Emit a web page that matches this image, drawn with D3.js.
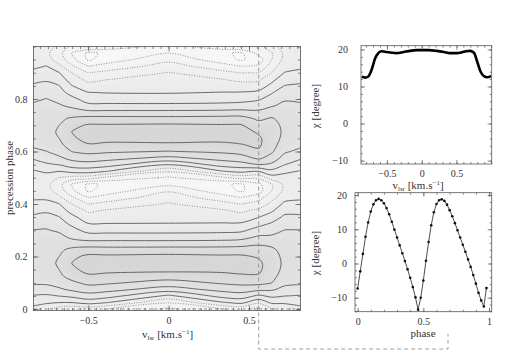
<!DOCTYPE html>
<html>
<head>
<meta charset="utf-8">
<script src="https://cdn.jsdelivr.net/npm/d3@7/dist/d3.min.js"></script>
<style>
  body { margin: 0; background: #fff; }
  svg text { font-family: "Liberation Serif", "DejaVu Serif", serif; fill: #333; }
</style>
</head>
<body>
<div id="viz-container"></div>
<script>
// ---- values ----

// chi map: velocity of each grid column, phase of each grid row
const mapVel = [-0.84, -0.76, -0.68, -0.6, -0.5, -0.38, 0, 0.33, 0.45, 0.56, 0.64, 0.72, 0.82];
const mapPhase = [0, 0.025, 0.05, 0.075, 0.1, 0.125, 0.15, 0.175, 0.2, 0.225, 0.25, 0.275, 0.3, 0.325,
  0.35, 0.375, 0.4, 0.425, 0.45, 0.475, 0.5, 0.525, 0.55, 0.575, 0.6, 0.625, 0.65, 0.675, 0.7, 0.725,
  0.75, 0.775, 0.8, 0.825, 0.85, 0.875, 0.9, 0.925, 0.95, 0.975, 1];
// chi [degree], one column per velocity, phase 0 -> 1
const chiColumns = [
  [1.0, 3.1, 5.7, 8.5, 10.6, 11.6, 12.3, 12.6, 12.4, 12.0, 11.4, 10.7, 10.1, 8.3, 6.7, 4.8, 2.8, 1.5, 0.7, 0.5, 1.2, 1.6, 4.0, 6.5, 9.0, 10.8, 11.8, 12.6, 12.5, 12.0, 11.3, 10.5, 9.4, 8.0, 6.6, 4.8, 2.8, 1.3, 0.6, 0.6, 1.4],
  [-0.8, 2.6, 5.4, 8.3, 10.7, 12.0, 12.8, 13.2, 13.0, 12.5, 11.8, 11.0, 10.3, 8.8, 7.2, 5.4, 3.3, 1.2, -0.5, -1.0, 0.2, 2.6, 5.4, 7.9, 9.9, 11.6, 12.6, 13.2, 13.0, 12.4, 11.6, 10.8, 10.1, 8.6, 7.2, 5.4, 3.8, 2.1, -0.4, -1.2, -0.8],
  [-4.0, 2.1, 6.1, 9.4, 11.8, 13.2, 14.0, 14.3, 14.0, 13.3, 12.4, 11.2, 9.3, 7.7, 6.1, 4.0, 2.1, -1.3, -3.8, -4.5, -2.1, 2.1, 6.1, 9.3, 11.6, 13.0, 14.0, 14.3, 14.0, 13.2, 12.0, 10.4, 8.9, 7.4, 6.1, 4.0, 2.1, -1.3, -3.8, -4.5, -2.6],
  [-5.0, 2.1, 7.0, 10.8, 13.2, 15.5, 17.3, 18.1, 17.2, 15.0, 12.0, 9.0, 7.3, 5.1, 3.0, 0.5, -2.1, -5.3, -9.0, -10.6, -3.5, 3.5, 8.0, 11.2, 14.1, 16.0, 17.4, 18.1, 17.0, 14.6, 11.7, 9.1, 7.0, 4.5, 2.1, 0.0, -2.1, -5.3, -8.7, -10.3, -7.0],
  [-4.5, 3.7, 8.4, 12.0, 15.0, 17.5, 19.0, 19.5, 18.8, 16.0, 11.6, 7.8, 4.7, 2.1, -0.2, -2.7, -6.1, -10.1, -14.6, -14.6, -4.0, 3.8, 8.4, 12.0, 15.0, 17.7, 19.2, 19.6, 18.4, 15.5, 11.0, 6.9, 4.3, 2.1, -0.5, -3.1, -6.1, -10.1, -14.6, -14.8, -5.5],
  [-6.0, 2.1, 7.6, 11.3, 14.6, 17.2, 18.8, 19.2, 18.7, 15.8, 11.6, 7.8, 4.7, 2.1, -0.2, -1.6, -4.7, -8.4, -12.0, -13.4, -7.2, 2.1, 7.6, 11.3, 14.6, 17.4, 18.9, 19.2, 18.4, 15.5, 11.0, 6.9, 4.1, 1.8, 0.0, -2.1, -4.9, -8.4, -12.0, -13.2, -7.5],
  [-10.8, -5.6, 1.2, 8.3, 12.4, 16.1, 19.0, 20.0, 19.0, 15.9, 11.6, 7.8, 4.7, 2.1, 0.8, -0.4, -1.6, -3.7, -6.4, -11.0, -10.6, -5.4, 2.1, 9.0, 13.8, 17.2, 19.6, 19.9, 18.6, 15.4, 11.0, 6.9, 4.0, 1.7, 0.6, -0.6, -1.8, -4.3, -7.1, -10.1, -11.5],
  [-6.3, 1.6, 7.4, 11.2, 14.5, 17.1, 18.7, 19.1, 18.6, 15.9, 11.8, 8.0, 4.9, 2.3, 0.0, -1.5, -4.5, -8.2, -12.2, -13.3, -7.0, 1.8, 7.6, 11.4, 14.7, 17.4, 18.8, 19.1, 18.3, 15.6, 11.2, 7.1, 4.3, 2.1, 0.1, -1.9, -4.8, -8.3, -12.1, -13.1, -7.6],
  [-5.0, 3.2, 8.0, 12.0, 15.0, 17.5, 19.0, 19.3, 18.6, 16.0, 12.2, 8.4, 5.2, 2.4, -0.2, -2.8, -6.1, -10.1, -14.5, -14.6, -4.5, 3.2, 8.4, 12.4, 15.4, 17.8, 19.2, 19.4, 18.3, 15.6, 11.4, 7.4, 4.6, 2.2, -0.4, -3.0, -6.1, -10.1, -14.5, -14.7, -5.5],
  [-7.3, -1.0, 5.3, 11.0, 15.2, 17.6, 18.7, 18.8, 17.6, 15.8, 13.3, 10.5, 7.6, 4.7, 1.9, -1.1, -4.2, -7.6, -11.7, -10.9, -5.0, 2.2, 9.9, 14.7, 17.4, 18.6, 18.6, 17.5, 15.6, 13.3, 10.8, 8.1, 5.5, 2.8, 0.1, -2.8, -5.9, -9.3, -12.2, -8.5, -7.3],
  [-2.5, 2.8, 6.8, 10.6, 14.1, 15.2, 15.9, 16.0, 15.6, 14.8, 13.0, 10.6, 8.4, 6.4, 4.0, 1.4, -1.0, -3.5, -6.1, -6.5, 0.0, 5.0, 9.2, 12.4, 14.6, 15.5, 16.0, 16.0, 15.5, 14.4, 12.0, 9.6, 7.6, 5.6, 3.0, 0.8, -2.1, -4.0, -6.1, -6.5, -3.0],
  [-0.8, 2.6, 6.1, 8.9, 11.0, 12.3, 13.0, 13.3, 13.1, 12.6, 11.9, 11.0, 10.1, 8.4, 6.7, 4.8, 2.8, 0.6, -1.0, -1.2, 0.5, 2.8, 6.1, 8.5, 10.6, 12.0, 12.9, 13.3, 13.1, 12.6, 11.8, 10.8, 9.6, 8.2, 6.1, 4.2, 2.1, 0.4, -0.9, -1.2, -0.6],
  [1.0, 3.1, 5.7, 8.5, 10.6, 11.6, 12.3, 12.7, 12.5, 12.0, 11.4, 10.7, 10.1, 8.3, 6.7, 4.8, 2.8, 1.5, 0.7, 0.5, 1.2, 1.8, 4.0, 6.5, 9.0, 10.8, 11.8, 12.6, 12.5, 12.0, 11.3, 10.5, 9.4, 8.0, 6.6, 4.8, 2.8, 1.3, 0.6, 0.6, 1.4]
];
const contourLevels = [-14, -10, -6, -2, 2, 6, 10, 14, 18];
const cutVel = 0.56;   // dashed cut shown in the lower right panel

// upper right: chi along velocity
const profileVel = [-0.863, -0.816, -0.768, -0.72, -0.672, -0.624, -0.576, -0.504, -0.43, -0.36, -0.26, -0.168,
  -0.08, 0, 0.1, 0.216, 0.32, 0.407, 0.5, 0.576, 0.64, 0.695, 0.752, 0.8, 0.849, 0.896, 0.944, 1.0];
const profileChi = [12.6, 12.4, 12.7, 14.5, 17.5, 19.0, 19.5, 19.3, 19.1, 19.0, 19.3, 19.6,
  19.8, 19.8, 19.8, 19.6, 19.3, 19.0, 19.0, 19.2, 19.5, 19.6, 19.1, 16.6, 13.9, 12.8, 12.5, 12.8];

// lower right: chi along precession phase
const cutPhase = [0, 0.02, 0.04, 0.06, 0.08, 0.1, 0.12, 0.14, 0.16, 0.18, 0.2, 0.22, 0.24, 0.26, 0.28, 0.3, 0.32,
  0.34, 0.36, 0.38, 0.4, 0.42, 0.44, 0.46, 0.48, 0.5, 0.52, 0.54, 0.56, 0.58, 0.6, 0.62, 0.64, 0.66, 0.68, 0.7,
  0.72, 0.74, 0.76, 0.78, 0.8, 0.82, 0.84, 0.86, 0.88, 0.9, 0.92, 0.94, 0.96, 0.98];
const cutChi = [-7.3, -2.3, 2.8, 7.8, 12.0, 15.2, 17.3, 18.5, 18.9, 18.5, 17.6, 16.2, 14.4, 12.2, 9.9, 7.6, 5.3,
  3.0, 0.7, -1.7, -4.2, -6.9, -9.9, -13.5, -10.0, -5.0, 0.8, 6.3, 11.2, 15.0, 17.4, 18.5, 18.8, 18.3, 17.2, 15.6,
  13.8, 11.8, 9.7, 7.6, 5.5, 3.4, 1.2, -1.0, -3.4, -5.9, -8.6, -10.8, -12.6, -7.2];

// ticks
const mapVelTicks = [-0.5, 0, 0.5];
const mapPhaseTicks = [0, 0.2, 0.4, 0.6, 0.8];
const chiTicks = [-10, 0, 10, 20];
const profileVelTicks = [-0.5, 0, 0.5];
const phaseTicks = [0, 0.5, 1];

const viz = d3.select('#viz-container')
  .append('svg')
    .attr('width', 506)
    .attr('height', 354);

// scales
const xL = d3.scaleLinear().domain([-0.84, 0.82]).range([33.5, 300.5]);
const yL = d3.scaleLinear().domain([-0.006, 1]).range([310.6, 46.5]);
const xT = d3.scaleLinear().domain([-0.873, 1.007]).range([361, 491.7]);
const yT = d3.scaleLinear().domain([-10.9, 21]).range([164, 45.7]);
const xB = d3.scaleLinear().domain([-0.02, 1.02]).range([355, 491.7]);
const yB = d3.scaleLinear().domain([-14.1, 20.7]).range([311.7, 192.7]);

const defs = viz.append('defs');
const clip = (id, x, y) => {
  defs.append('clipPath').attr('id', id).append('rect')
    .attr('x', x.range()[0]).attr('y', y.range()[1])
    .attr('width', x.range()[1] - x.range()[0]).attr('height', y.range()[0] - y.range()[1]);
  return `url(#${id})`;
};

// ---- left: contour map ----
const n = mapVel.length, m = mapPhase.length;
const values = [];
for (let j = 0; j < m; j++) for (let i = 0; i < n; i++) values.push(chiColumns[i][j]);

const colVel = d3.scaleLinear().domain(d3.range(n)).range(mapVel).clamp(true);
const rowPhase = d3.scaleLinear().domain(d3.range(m)).range(mapPhase).clamp(true);
const px = a => xL(colVel(a - 0.5));
const py = b => yL(rowPhase(b - 0.5));

const gMap = viz.append('g').attr('clip-path', clip('clipL', xL, yL));

const fillLevels = d3.range(-17, 21, 1);
const fillGray = d3.scaleLinear().domain([-16, -2, 6, 14, 20])
  .range(['#f9f9f9', '#eeeeee', '#e7e7e7', '#dedede', '#d4d4d4']);
gMap.append('rect')
  .attr('x', 33.5).attr('y', 46.5).attr('width', 267).attr('height', 264.1)
  .attr('fill', fillGray(-17));
const geoPath = d3.geoPath(d3.geoTransform({
  point(a, b) { this.stream.point(px(a), py(b)); }
}));
gMap.selectAll('path.band')
  .data(d3.contours().size([n, m]).thresholds(fillLevels)(values))
  .join('path')
    .attr('class', 'band')
    .attr('d', geoPath)
    .attr('fill', d => fillGray(d.value));

// contour lines: split the rings where they run along the grid border
const onEdge = p => p[0] <= 0 || p[0] >= n || p[1] <= 0 || p[1] >= m;
const ringRuns = ring => {
  const pts = ring.slice(0, -1);
  const k = pts.findIndex(onEdge);
  if (k < 0) return [{ closed: true, pts }];
  const rot = pts.slice(k).concat(pts.slice(0, k));
  const runs = [];
  let cur = [];
  rot.forEach(p => {
    if (onEdge(p)) {
      if (cur.length > 1) runs.push({ closed: false, pts: cur });
      cur = [];
    } else cur.push(p);
  });
  if (cur.length > 1) runs.push({ closed: false, pts: cur });
  return runs;
};
const lineOpen = d3.line().x(p => px(p[0])).y(p => py(p[1])).curve(d3.curveCatmullRom.alpha(0.5));
const lineClosed = d3.line().x(p => px(p[0])).y(p => py(p[1])).curve(d3.curveCatmullRomClosed.alpha(0.5));

contourLevels.forEach(lv => {
  const c = d3.contours().size([n, m]).thresholds([lv])(values)[0];
  const runs = [];
  c.coordinates.forEach(poly => poly.forEach(ring => runs.push(...ringRuns(ring))));
  gMap.selectAll(null)
    .data(runs)
    .join('path')
      .attr('d', r => r.closed ? lineClosed(r.pts) : lineOpen(r.pts))
      .attr('fill', 'none')
      .attr('stroke', lv > 0 ? '#5a5a5a' : '#7c7c7c')
      .attr('stroke-width', lv > 0 ? 0.9 : 0.8)
      .attr('stroke-dasharray', lv > 0 ? null : '1,1.5');
});

// dashed phase-0 line
gMap.append('line')
  .attr('x1', 33.5).attr('x2', 300.5).attr('y1', yL(0)).attr('y2', yL(0))
  .attr('stroke', '#777').attr('stroke-width', 0.8).attr('stroke-dasharray', '3,2.5');

// ---- frames with inward ticks on all sides ----
const drawFrame = (x, y, o) => {
  const [x0, x1] = x.range(), [y0, y1] = y.range();
  const g = viz.append('g');
  const axis = (gen, tx, ty, vals, size, fmt, pad) => {
    const a = g.append('g')
      .attr('transform', `translate(${tx},${ty})`)
      .call(gen.tickValues(vals).tickSize(size).tickPadding(pad).tickFormat(fmt));
    a.select('.domain').remove();
    a.attr('font-family', null).attr('font-size', 10);
    a.selectAll('line').attr('stroke', '#555').attr('stroke-width', 0.7);
  };
  const blank = () => '';
  axis(d3.axisBottom(x), 0, y0, o.xMajor, -o.major, d3.format(''), o.xPad);
  axis(d3.axisBottom(x), 0, y0, o.xMinor, -o.minor, blank, 0);
  axis(d3.axisTop(x), 0, y1, o.xMajor, -o.major, blank, 0);
  axis(d3.axisTop(x), 0, y1, o.xMinor, -o.minor, blank, 0);
  axis(d3.axisLeft(y), x0, 0, o.yMajor, -o.major, d3.format(''), o.yPad);
  axis(d3.axisLeft(y), x0, 0, o.yMinor, -o.minor, blank, 0);
  axis(d3.axisRight(y), x1, 0, o.yMajor, -o.major, blank, 0);
  axis(d3.axisRight(y), x1, 0, o.yMinor, -o.minor, blank, 0);
  g.append('rect')
    .attr('x', x0).attr('y', y1).attr('width', x1 - x0).attr('height', y0 - y1)
    .attr('fill', 'none').attr('stroke', '#555').attr('stroke-width', 0.8);
};

drawFrame(xL, yL, {
  xMajor: mapVelTicks, xMinor: d3.range(-0.8, 0.801, 0.05),
  yMajor: mapPhaseTicks, yMinor: d3.range(0, 1.001, 0.05),
  major: 5, minor: 2.5, xPad: 6, yPad: 6
});

// ---- upper right: chi versus velocity ----
viz.append('path')
  .datum(d3.zip(profileVel, profileChi))
  .attr('clip-path', clip('clipT', xT, yT))
  .attr('d', d3.line().x(d => xT(d[0])).y(d => yT(d[1])).curve(d3.curveMonotoneX))
  .attr('fill', 'none')
  .attr('stroke', '#000')
  .attr('stroke-width', 2.6);

drawFrame(xT, yT, {
  xMajor: profileVelTicks, xMinor: d3.range(-0.8, 1.001, 0.1),
  yMajor: chiTicks, yMinor: d3.range(-10, 20.01, 2),
  major: 4, minor: 2, xPad: 5.5, yPad: 13
});

// ---- lower right: chi versus phase ----
const cutPoints = d3.zip(cutPhase, cutChi);
viz.append('path')
  .datum(cutPoints)
  .attr('d', d3.line().x(d => xB(d[0])).y(d => yB(d[1])))
  .attr('fill', 'none')
  .attr('stroke', '#222')
  .attr('stroke-width', 0.8);
viz.selectAll('circle.pt')
  .data(cutPoints)
  .join('circle')
    .attr('class', 'pt')
    .attr('cx', d => xB(d[0]))
    .attr('cy', d => yB(d[1]))
    .attr('r', 1.3)
    .attr('fill', '#111');

drawFrame(xB, yB, {
  xMajor: phaseTicks, xMinor: d3.range(0, 1.001, 0.1),
  yMajor: chiTicks, yMinor: d3.range(-14, 20.01, 2),
  major: 4, minor: 2, xPad: 6, yPad: 8
});

// dashed connector from the cut to the lower right panel
viz.append('path')
  .attr('d', `M${xL(cutVel)},${yL.range()[1]}V349H448V334`)
  .attr('fill', 'none')
  .attr('stroke', '#888')
  .attr('stroke-width', 0.8)
  .attr('stroke-dasharray', '4,3');

// ---- axis titles ----
const vlsr = (x, y) => {
  const t = viz.append('text').attr('x', x).attr('y', y).attr('text-anchor', 'middle').attr('font-size', 11);
  t.append('tspan').text('v');
  t.append('tspan').attr('font-size', 7).attr('dy', 2).text('lsr');
  t.append('tspan').attr('dy', -2).text(' [km.s');
  t.append('tspan').attr('font-size', 7).attr('dy', -4).text('−1');
  t.append('tspan').attr('dy', 4).text(']');
};
vlsr(167.5, 338);
vlsr(418, 189);

viz.append('text')
  .attr('transform', 'translate(9,178) rotate(-90)')
  .attr('text-anchor', 'middle').attr('dy', '0.35em').attr('font-size', 11)
  .text('precession phase');
viz.append('text')
  .attr('transform', 'translate(315,106) rotate(-90)')
  .attr('text-anchor', 'middle').attr('dy', '0.35em').attr('font-size', 11)
  .text('χ [degree]');
viz.append('text')
  .attr('transform', 'translate(315,253) rotate(-90)')
  .attr('text-anchor', 'middle').attr('dy', '0.35em').attr('font-size', 11)
  .text('χ [degree]');
viz.append('text')
  .attr('x', 423).attr('y', 337)
  .attr('text-anchor', 'middle').attr('font-size', 11)
  .text('phase');
</script>
</body>
</html>
